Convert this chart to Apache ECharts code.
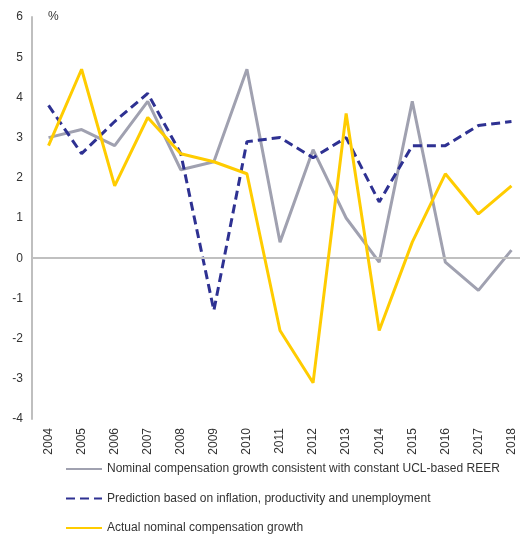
<!DOCTYPE html>
<html>
<head>
<meta charset="utf-8">
<script src="https://cdn.jsdelivr.net/npm/echarts@6/dist/echarts.min.js"></script>
<style>
  html, body { margin: 0; padding: 0; background: #fff; }
</style>
</head>
<body>
<div id="main" style="width:520px;height:536px"></div>
<script>
var years = ["2004", "2005", "2006", "2007", "2008", "2009", "2010", "2011",
  "2012", "2013", "2014", "2015", "2016", "2017", "2018"];
var reerConsistent = [3.0, 3.2, 2.8, 3.9, 2.2, 2.4, 4.7, 0.4, 2.7, 1.0, -0.1, 3.9, -0.1, -0.8, 0.2];
var prediction = [3.8, 2.6, 3.4, 4.1, 2.6, -1.3, 2.9, 3.0, 2.5, 3.0, 1.4, 2.8, 2.8, 3.3, 3.4];
var actual = [2.8, 4.7, 1.8, 3.5, 2.6, 2.4, 2.1, -1.8, -3.1, 3.6, -1.8, 0.4, 2.1, 1.1, 1.8];
var seriesNames = [
  "Nominal compensation growth consistent with constant UCL-based REER",
  "Prediction based on inflation, productivity and unemployment",
  "Actual nominal compensation growth"
];

var font = "Liberation Sans, Arial, sans-serif";
var chart = echarts.init(document.getElementById("main"));

chart.setOption({
  animation: false,
  textStyle: { fontFamily: font },
  // plot area runs past the right edge, as in the source figure
  grid: { left: 32, top: 17, width: 496, height: 402, outerBoundsMode: "none", containLabel: false },
  graphic: [{
    type: "text",
    left: 48,
    top: 11,
    style: { text: "%", fontSize: 12, fill: "#333", fontFamily: font }
  }],
  legend: {
    orient: "vertical",
    left: 60,
    top: 458,
    height: 80,
    itemWidth: 36,
    itemHeight: 14,
    itemGap: 17.5,
    itemStyle: { opacity: 0 },
    textStyle: { fontSize: 12, color: "#333", fontFamily: font },
    data: seriesNames
  },
  xAxis: {
    type: "category",
    data: years,
    boundaryGap: true,
    axisLine: { show: false },
    axisTick: { show: false },
    axisLabel: {
      rotate: 90,
      margin: 9,
      fontSize: 12,
      color: "#333",
      fontFamily: font
    }
  },
  yAxis: {
    type: "value",
    min: -4,
    max: 6,
    interval: 1,
    axisLine: { show: true, lineStyle: { color: "#bfbfbf", width: 2 } },
    axisTick: { show: false },
    splitLine: { show: false },
    axisLabel: { margin: 9, fontSize: 12, color: "#333", fontFamily: font }
  },
  series: [
    {
      name: seriesNames[0],
      type: "line",
      data: reerConsistent,
      symbol: "none",
      lineStyle: { color: "#a0a1b0", width: 3 },
      itemStyle: { color: "#a0a1b0" },
      markLine: {
        silent: true,
        symbol: "none",
        label: { show: false },
        lineStyle: { color: "#c0c0c0", width: 2, type: "solid" },
        data: [{ yAxis: 0 }]
      },
      z: 3
    },
    {
      name: seriesNames[1],
      type: "line",
      data: prediction,
      symbol: "none",
      lineStyle: { color: "#2e3192", width: 3, type: [9, 5] },
      itemStyle: { color: "#2e3192" },
      z: 4
    },
    {
      name: seriesNames[2],
      type: "line",
      data: actual,
      symbol: "none",
      lineStyle: { color: "#ffcc00", width: 3 },
      itemStyle: { color: "#ffcc00" },
      z: 5
    }
  ]
});
</script>
</body>
</html>
